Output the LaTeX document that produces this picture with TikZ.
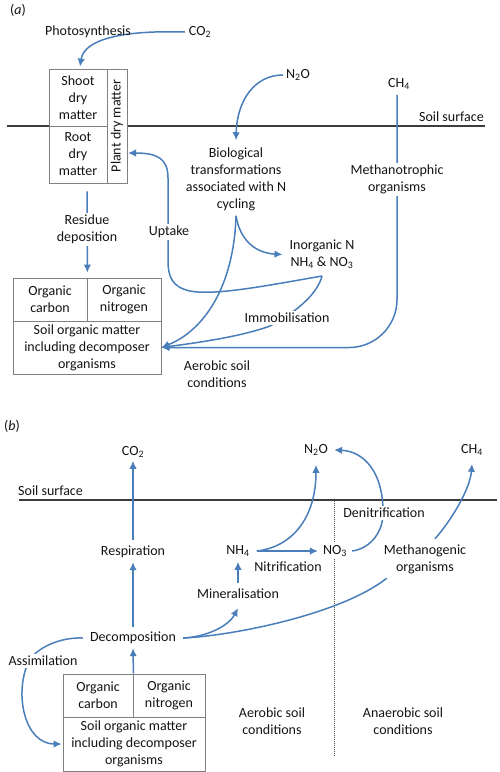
\documentclass[tikz,border=0pt]{standalone}
\usepackage{fontspec}
\setmainfont{Carlito}
\usetikzlibrary{arrows.meta,backgrounds}
\definecolor{arrblue}{RGB}{74,126,187}
\definecolor{soilgray}{RGB}{60,60,60}
\definecolor{boxgray}{RGB}{128,128,128}
\begin{document}
\begin{tikzpicture}[x=1pt,y=-1pt,
  every node/.style={font=\fontsize{14}{17}\selectfont, inner sep=0pt, align=center, text=black!92},
  lbl/.style={fill=white, inner sep=2pt},
  box/.style={draw=boxgray, fill=white, line width=0.8pt},
  arr/.style={draw=arrblue, line width=1.5pt, -{Latex[length=8pt,width=7.5pt]}},
  ln/.style={draw=arrblue, line width=1.5pt},
  soil/.style={draw=soilgray, line width=1.8pt},
  dotline/.style={draw=black!70, line width=0.7pt, dash pattern=on 1pt off 1pt}]
\useasboundingbox (0,0) rectangle (500,772);
% ---------- (a) nodes ----------
\node (laba) at (18,10) {(\textit{a})};
\node (photo) at (88,32) {Photosynthesis};
\node (co2a) at (200,32) {CO\textsubscript{2}};
\node[box, minimum width=58, minimum height=57] (shoot) at (78,97.5) {Shoot\\dry\\matter};
\node[box, minimum width=58, minimum height=57] (root) at (78,154.5) {Root\\dry\\matter};
\node[box, minimum width=20, minimum height=114] (plant) at (117,126) {};
\node[rotate=90] (plantlbl) at (plant.center) {Plant dry matter};
\node[anchor=east] (ssa) at (484,117) {Soil surface};
\node (n2oa) at (298,75) {N\textsubscript{2}O};
\node (ch4a) at (399,84) {CH\textsubscript{4}};
\node[lbl] (bio) at (236,179) {Biological\\transformations\\associated with N\\cycling};
\node[lbl] (mtroph) at (397,179.5) {Methanotrophic\\organisms};
\node[lbl] (resid) at (87,229.5) {Residue\\deposition};
\node[lbl] (uptake) at (169,232) {Uptake};
\node[lbl] (inorg) at (322,254.5) {Inorganic N\\NH\textsubscript{4} \& NO\textsubscript{3}};
\node[lbl] (immob) at (287,318) {Immobilisation};
\node[box, minimum width=74, minimum height=43] (orgca) at (50,299.5) {Organic\\carbon};
\node[box, minimum width=74, minimum height=43] (orgna) at (124,299.5) {Organic\\nitrogen};
\node[box, minimum width=148, minimum height=53] (soma) at (87,347.5) {Soil organic matter\\including decomposer\\organisms};
\node (aeroa) at (217,374.5) {Aerobic soil\\conditions};
\coordinate (sa1) at (7,126);
\coordinate (sa2) at (485,126);
\coordinate (jn) at (322,276);
\coordinate (uptip) at (128,153);
% ---------- (b) nodes ----------
\node (labb) at (12,426) {(\textit{b})};
\node (co2b) at (133,452) {CO\textsubscript{2}};
\node[anchor=west] (ssb) at (18,491) {Soil surface};
\node (n2ob) at (316,450) {N\textsubscript{2}O};
\node (ch4b) at (472,450) {CH\textsubscript{4}};
\node (resp) at (133,552) {Respiration};
\node (nh4) at (238,551) {NH\textsubscript{4}};
\node[lbl] (no3) at (335,551) {NO\textsubscript{3}};
\node (nitr) at (288,567) {Nitrification};
\node[lbl] (denit) at (384,513) {Denitrification};
\node[lbl] (mgen) at (425,559.5) {Methanogenic\\organisms};
\node (minz) at (238,594) {Mineralisation};
\node (decomp) at (133,638) {Decomposition};
\node[lbl] (assim) at (43,661) {Assimilation};
\node[box, minimum width=70, minimum height=43] (orgcb) at (98,695.5) {Organic\\carbon};
\node[box, minimum width=72, minimum height=43] (orgnb) at (169,695.5) {Organic\\nitrogen};
\node[box, minimum width=142, minimum height=54] (somb) at (134,744) {Soil organic matter\\including decomposer\\organisms};
\node (aerob) at (272,721.5) {Aerobic soil\\conditions};
\node (anaer) at (403,721.5) {Anaerobic soil\\conditions};
\coordinate (sb1) at (19,500);
\coordinate (sb2) at (497,500);
\coordinate (dtop) at (334,501);
\coordinate (dbot) at (334,757);
% ---------- connectors ----------
\begin{scope}[on background layer]
\fill[white] (0,0) rectangle (500,772);
\draw[soil] (sa1) -- (sa2);
\draw[soil] (sb1) -- (sb2);
\draw[dotline] (dtop) -- (dbot);
% (a)
\draw[arr] ([xshift=-4pt]co2a.west) .. controls (120,30) and (84,40) .. ([xshift=2pt,yshift=2pt]shoot.north);
\draw[arr] ([xshift=-3pt]n2oa.west) .. controls (255,75) and (237,100) .. ([yshift=5pt]bio.north);
\draw[arr, rounded corners=48pt] ([yshift=-5pt]ch4a.south -| mtroph) |- (soma.east);
\draw[arr, shorten <=8pt, shorten >=5pt] (root.south -| resid) -- (orgca.north east);
\draw[arr] ([yshift=-3pt]bio.south) .. controls (240,240) and (255,253) .. ([xshift=-5pt]inorg.west);
\draw[arr] ([yshift=-3pt]bio.south) .. controls (234,285) and (205,330) .. (soma.east);
\draw[arr] (jn) .. controls (270,285) and (215,296) .. (190,291) .. controls (172,287) and (168,277) .. (168,260) -- (168,178) .. controls (168,159) and (158,153) .. (uptip);
\draw[arr] (jn) .. controls (318,292) and (300,310) .. (270,326) .. controls (240,337) and (195,343) .. (soma.east);
% (b)
\draw[arr, shorten <=6pt, shorten >=3pt] (resp.north) -- (co2b.south);
\draw[arr, shorten <=5pt, shorten >=4pt] (decomp.north) -- (resp.south);
\draw[arr, shorten >=4pt] (orgcb.north east) -- (decomp.south);
\draw[arr, shorten <=6pt, shorten >=5pt] (minz.north) -- (nh4.south);
\draw[arr] ([xshift=7pt]nh4.east) .. controls (292,547) and (316,518) .. ([yshift=-9pt]n2ob.south);
\draw[arr] ([xshift=7pt]nh4.east) -- ([xshift=-3pt]no3.west);
\draw[arr] ([xshift=3pt]no3.east) .. controls (368,549) and (382,535) .. (383,515) .. controls (384,470) and (362,451) .. ([xshift=6pt]n2ob.east);
\draw[arr] ([xshift=7pt]decomp.east) .. controls (205,637) and (228,627) .. ([yshift=-9pt]minz.south);
\draw[ln] ([xshift=7pt]decomp.east) .. controls (230,636) and (340,615) .. ([xshift=5pt,yshift=-2pt]mgen.south west);
\draw[arr] ([xshift=10pt,yshift=4pt]mgen.north) .. controls (450,522) and (470,490) .. ([yshift=-8pt]ch4b.south);
\draw[arr] ([xshift=-7pt]decomp.west) .. controls (60,637) and (35,648) .. (28,663) .. controls (14,695) and (25,744) .. ([xshift=-1pt]somb.west);
\end{scope}
\end{tikzpicture}
\end{document}
